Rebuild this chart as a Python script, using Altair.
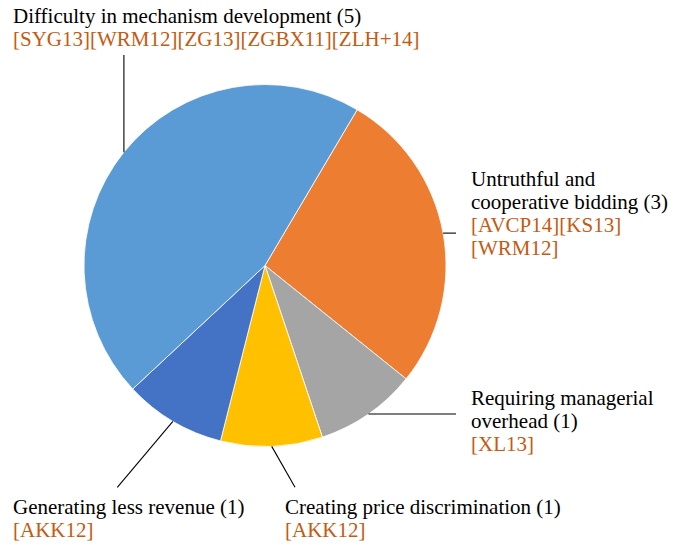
import math
import textwrap
import altair as alt
import pandas as pd

# ---------------- data ----------------
categories = [
    "Untruthful and cooperative bidding",
    "Requiring managerial overhead",
    "Creating price discrimination",
    "Generating less revenue",
    "Difficulty in mechanism development",
]
counts = [3, 1, 1, 1, 5]
references = [
    ["AVCP14", "KS13", "WRM12"],
    ["XL13"],
    ["AKK12"],
    ["AKK12"],
    ["SYG13", "WRM12", "ZG13", "ZGBX11", "ZLH+14"],
]
colors = ["#ED7D31", "#A5A5A5", "#FFC000", "#4472C4", "#5B9BD5"]

# ---------------- layout (page pixels) ----------------
M = 8                      # page margin
CX, CY, R = 265, 265.5, 181
START_DEG = 30.6           # where the first slice begins (clockwise from 12 o'clock)
LINE_H = 23.3
FONT = "Liberation Serif"
FS = 21
TEXT_BLACK = "#000000"
TEXT_ORANGE = "#C55A11"

# per slice: text x, first baseline, wrap width, refs per line, leader end (x or None, y or None)
layout = [
    dict(tx=471, ty=185.5, wrap=24, per=2, ex=456, ey=None),
    dict(tx=471, ty=404.5, wrap=24, per=2, ex=456, ey=None),
    dict(tx=285, ty=513.5, wrap=45, per=5, ex=295, ey=487.3),
    dict(tx=13, ty=513.5, wrap=45, per=5, ex=117.3, ey=487.3),
    dict(tx=13, ty=23.0, wrap=45, per=5, ex=None, ey=55),
]

total = sum(counts)
pie_df = pd.DataFrame({
    "category": categories,
    "count": counts,
    "idx": list(range(len(categories))),
})

# text lines and leader lines
text_rows = []
rule_rows = []
cum = 0
for i, (cat, n, refs, lay) in enumerate(zip(categories, counts, references, layout)):
    mid = math.radians(START_DEG + 360.0 * (cum + n / 2) / total)
    cum += n
    sx = CX + R * math.sin(mid)
    sy = CY - R * math.cos(mid)
    ex = lay["ex"] if lay["ex"] is not None else sx
    ey = lay["ey"] if lay["ey"] is not None else sy
    rule_rows.append(dict(x=sx - M, y=sy - M, x2=ex - M, y2=ey - M))

    lines = [(t, TEXT_BLACK) for t in textwrap.wrap(f"{cat} ({n})", lay["wrap"])]
    for k in range(0, len(refs), lay["per"]):
        chunk = refs[k:k + lay["per"]]
        lines.append(("".join(f"[{r}]" for r in chunk), TEXT_ORANGE))
    for j, (t, c) in enumerate(lines):
        text_rows.append(dict(text=t, x=lay["tx"] - M, y=lay["ty"] + j * LINE_H - M, c=c))

text_df = pd.DataFrame(text_rows)
rule_df = pd.DataFrame(rule_rows)

a0 = math.radians(START_DEG)

pie = alt.Chart(pie_df).mark_arc(outerRadius=R, stroke="white", strokeWidth=0.8).encode(
    theta=alt.Theta("count:Q", stack=True, scale=alt.Scale(range=[a0, a0 + 2 * math.pi])),
    color=alt.Color("category:N", scale=alt.Scale(domain=categories, range=colors), legend=None),
    order=alt.Order("idx:Q"),
    x=alt.value(CX - M),
    y=alt.value(CY - M),
)

rules = alt.Chart(rule_df).mark_rule(color="#000000", strokeWidth=1.1).encode(
    x=alt.X("x:Q", scale=None, axis=None),
    y=alt.Y("y:Q", scale=None, axis=None),
    x2="x2:Q",
    y2="y2:Q",
)

texts = alt.Chart(text_df).mark_text(
    align="left", baseline="alphabetic", font=FONT, fontSize=FS
).encode(
    x=alt.X("x:Q", scale=None, axis=None),
    y=alt.Y("y:Q", scale=None, axis=None),
    text="text:N",
    color=alt.Color("c:N", scale=None),
)

chart = alt.layer(pie, rules, texts).properties(
    width=667, height=535, padding=0, autosize="none", background="white"
).configure_view(stroke=None)

chart.save("out.html", embed_options={"renderer": "svg", "actions": False})
